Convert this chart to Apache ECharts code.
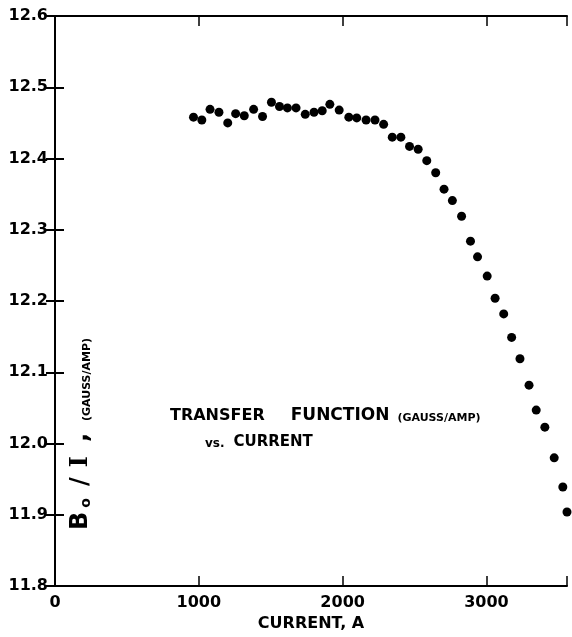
<!DOCTYPE html>
<html>
<head>
<meta charset="utf-8">
<script src="https://cdn.jsdelivr.net/npm/echarts@6/dist/echarts.min.js"></script>
<style>
  html, body { margin: 0; padding: 0; background: #fff; }
  #chart { width: 572px; height: 637px; }
</style>
</head>
<body>
<div id="chart"></div>
<script>
// measured points, current in A
const current = [
  963, 1021, 1078, 1140, 1201, 1256, 1316, 1381, 1443, 1505,
  1561, 1616, 1676, 1740, 1801, 1858, 1911, 1976, 2043, 2098,
  2163, 2225, 2285, 2345, 2405, 2465, 2525, 2585, 2647, 2705,
  2763, 2827, 2889, 2938, 3005, 3060, 3120, 3175, 3233, 3296,
  3346, 3406, 3471, 3531, 3560
];
// B0/I in gauss/amp
const transferFn = [
  12.458, 12.454, 12.469, 12.465, 12.450, 12.463, 12.460, 12.469, 12.459, 12.479,
  12.473, 12.471, 12.471, 12.462, 12.465, 12.467, 12.476, 12.468, 12.458, 12.457,
  12.454, 12.454, 12.448, 12.430, 12.430, 12.417, 12.413, 12.397, 12.380, 12.357,
  12.341, 12.319, 12.284, 12.262, 12.235, 12.204, 12.182, 12.149, 12.119, 12.082,
  12.047, 12.023, 11.980, 11.939, 11.904
];
const xTicks = [0, 1000, 2000, 3000];

const font = { fontFamily: "DejaVu Sans", fontWeight: "bold", color: "#000" };
const line = { lineStyle: { color: "#000", width: 2 } };

const chart = echarts.init(document.getElementById("chart"));

chart.setOption({
  animation: false,
  grid: { left: 55, right: 5, top: 16, bottom: 43 },
  xAxis: [
    {
      type: "value",
      position: "bottom",
      min: 0,
      max: 3560,
      interval: 1000,
      axisLine: line,
      axisTick: { inside: true, length: 10, lineStyle: { color: "#000", width: 1.5 } },
      axisLabel: {
        ...font,
        fontSize: 16,
        margin: 9,
        formatter: (v) => (xTicks.includes(v) ? String(v) : ""),
      },
      splitLine: { show: false },
      name: "CURRENT, A",
      nameLocation: "middle",
      nameGap: 27,
      nameTextStyle: { ...font, fontSize: 16 },
    },
    {
      type: "value",
      position: "top",
      min: 0,
      max: 3560,
      interval: 1000,
      axisLine: line,
      axisTick: { inside: true, length: 10, lineStyle: { color: "#000", width: 1.5 } },
      axisLabel: { show: false },
      splitLine: { show: false },
    },
  ],
  yAxis: [
    {
      type: "value",
      position: "left",
      min: 11.8,
      max: 12.6,
      interval: 0.1,
      axisLine: line,
      axisTick: { inside: true, length: 9, lineStyle: { color: "#000", width: 2 } },
      axisLabel: {
        ...font,
        fontSize: 16,
        margin: 7,
        formatter: (v) => v.toFixed(1),
      },
      splitLine: { show: false },
    },
    {
      type: "value",
      position: "right",
      min: 11.8,
      max: 12.6,
      interval: 0.1,
      axisLine: line,
      axisTick: { inside: true, length: 9, lineStyle: { color: "#000", width: 2 } },
      axisLabel: { show: false },
      splitLine: { show: false },
    },
  ],
  series: [
    {
      type: "scatter",
      xAxisIndex: 0,
      yAxisIndex: 0,
      symbol: "circle",
      symbolSize: 9,
      itemStyle: { color: "#000", opacity: 1 },
      data: current.map((c, i) => [c, transferFn[i]]),
    },
  ],
  graphic: [
    {
      type: "text",
      left: 170,
      top: 407,
      style: {
        text: "{b|TRANSFER}{g|}{f|FUNCTION}{s|(GAUSS/AMP)}",
        rich: {
          b: { ...font, fontSize: 16, verticalAlign: "bottom" },
          g: { width: 26 },
          f: { ...font, fontSize: 17, padding: [0, 8, 0, 0], verticalAlign: "bottom" },
          s: { ...font, fontSize: 11, verticalAlign: "bottom" },
        },
      },
    },
    {
      type: "text",
      left: 205,
      top: 435,
      style: {
        text: "{s|vs.}{g|}{b|CURRENT}",
        rich: {
          b: { ...font, fontSize: 15, verticalAlign: "bottom" },
          g: { width: 9 },
          s: { ...font, fontSize: 12, verticalAlign: "bottom" },
        },
      },
    },
    {
      type: "text",
      x: 81,
      y: 530,
      rotation: Math.PI / 2,
      style: {
        text: "{b|B}{o|o}{c|/}{i|I}{m|,}{s|(GAUSS/AMP)}",
        align: "left",
        verticalAlign: "middle",
        rich: {
          b: { ...font, fontSize: 24, padding: [0, 4, 0, 0], verticalAlign: "bottom" },
          o: { ...font, fontSize: 14, padding: [0, 12, 0, 0], verticalAlign: "bottom" },
          c: { ...font, fontSize: 24, padding: [0, 10, 0, 0], verticalAlign: "bottom" },
          i: { ...font, fontFamily: "DejaVu Serif", fontSize: 24, padding: [0, 14, 0, 0], verticalAlign: "bottom" },
          m: { ...font, fontSize: 24, padding: [0, 12, 0, 0], verticalAlign: "bottom" },
          s: { ...font, fontSize: 11, verticalAlign: "bottom" },
        },
      },
    },
  ],
});
</script>
</body>
</html>
